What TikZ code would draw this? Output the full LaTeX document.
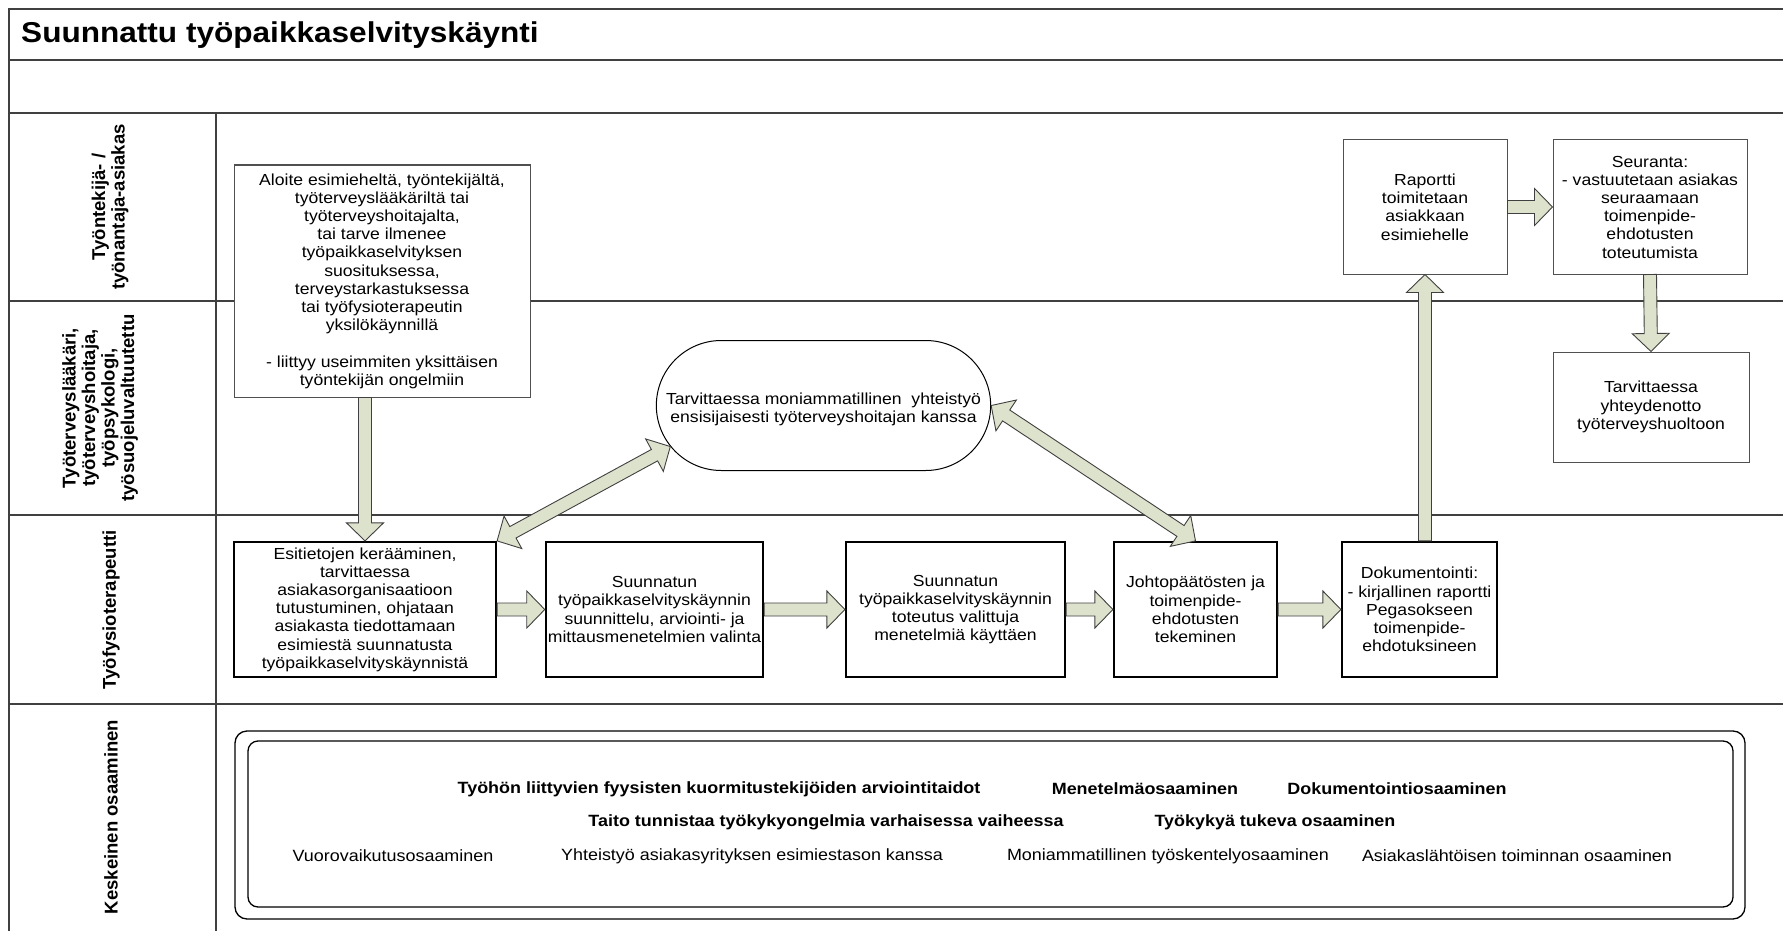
\documentclass[tikz,border=0pt]{standalone}
\usepackage{fontspec}
\setmainfont{Liberation Sans}[FakeStretch=1.1]
\newfontfamily\lanefont{Liberation Sans}
\usetikzlibrary{calc,shapes.misc}

\definecolor{arrowfill}{RGB}{221,226,204}
\definecolor{framegray}{RGB}{64,64,64}
\definecolor{thingray}{RGB}{80,80,80}

\newcommand\bodyfont{\fontsize{16}{18.2}\selectfont}
\def\arrShaft{6.5pt}
\def\arrHead{18.5pt}
\def\arrLen{18pt}

% block arrow with one head, from #1 to #2
\newcommand\flowarrow[2]{%
  \coordinate (fa-h) at ($(#2)!\arrLen!(#1)$);
  \draw[blockarrow] ($(#1)!\arrShaft!90:(#2)$) -- ($(fa-h)!\arrShaft!90:(#2)$)
    -- ($(fa-h)!\arrHead!90:(#2)$) -- (#2) -- ($(fa-h)!\arrHead!-90:(#2)$)
    -- ($(fa-h)!\arrShaft!-90:(#2)$) -- ($(#1)!\arrShaft!-90:(#2)$) -- cycle;}

% block arrow with heads at both ends
\newcommand\twowayarrow[2]{%
  \coordinate (tw-a) at ($(#1)!\arrLen!(#2)$);
  \coordinate (tw-b) at ($(#2)!\arrLen!(#1)$);
  \draw[blockarrow] (#1) -- ($(tw-a)!\arrHead!90:(#2)$) -- ($(tw-a)!\arrShaft!90:(#2)$)
    -- ($(tw-b)!\arrShaft!90:(#2)$) -- ($(tw-b)!\arrHead!90:(#2)$) -- (#2)
    -- ($(tw-b)!\arrHead!-90:(#2)$) -- ($(tw-b)!\arrShaft!-90:(#2)$)
    -- ($(tw-a)!\arrShaft!-90:(#2)$) -- ($(tw-a)!\arrHead!-90:(#2)$) -- cycle;}

\tikzset{
  frameline/.style={draw=framegray, line width=1.6pt},
  thinbox/.style={draw=thingray, line width=1pt, fill=white, align=center,
    font=\bodyfont, inner sep=2pt},
  thickbox/.style={draw=black, line width=2.2pt, fill=white, align=center,
    font=\bodyfont, inner sep=2pt},
  stadium/.style={rounded rectangle, draw=black, line width=1pt, fill=white},
  plaintext/.style={align=center, font=\bodyfont, inner sep=0pt},
  blockarrow/.style={fill=arrowfill, draw=framegray, line width=0.9pt, line join=miter},
  lanelabel/.style={rotate=90, align=center,
    font=\lanefont\bfseries\fontsize{18.5}{19.5}\selectfont},
  panel/.style={draw=black, line width=1.3pt},
  skill/.style={font=\fontsize{16.3}{18}\selectfont, inner sep=0pt},
  skillbold/.style={font=\bfseries\fontsize{16.3}{18}\selectfont, inner sep=0pt}
}

\begin{document}
\begin{tikzpicture}[x=1pt,y=-1pt]
\useasboundingbox (0,0) rectangle (1783,931);

% swimlane frame
\draw[frameline] (9,940) -- (9,9) -- (1790,9);
\foreach \yy in {60,113,301,515,704}
  \draw[frameline] (9,\yy) -- (1790,\yy);
\draw[frameline] (216,113) -- (216,940);

\node[anchor=west, inner sep=0pt, font=\bfseries\fontsize{28.7}{30}\selectfont]
  (title) at (21,35) {Suunnattu työpaikkaselvityskäynti};

% lane headings
\node[lanelabel] (lane1) at (110,207) {Työntekijä- /\\työnantaja-asiakas};
\node[lanelabel] (lane2) at (100,408)
  {Työterveyslääkäri,\\työterveyshoitaja,\\työpsykologi,\\työsuojeluvaltuutettu};
\node[lanelabel] (lane3) at (111,610) {Työfysioterapeutti};
\node[lanelabel] (lane4) at (111,817) {Keskeinen osaaminen};

% process steps
\node[thinbox, minimum width=296pt, minimum height=232pt] (A) at (382,281)
  {Aloite esimieheltä, työntekijältä,\\työterveyslääkäriltä tai\\työterveyshoitajalta,\\
   tai tarve ilmenee\\työpaikkaselvityksen\\suosituksessa,\\terveystarkastuksessa\\
   tai työfysioterapeutin\\yksilökäynnillä\\[18.2pt]- liittyy useimmiten yksittäisen\\
   työntekijän ongelmiin};
\node[stadium, minimum width=341pt, minimum height=130pt] (stad) at (823.5,405.5) {};
\node[plaintext] (stadText) at ($(stad.center)+(0,4)$)
  {Tarvittaessa moniammatillinen\ \ yhteistyö\\ensisijaisesti työterveyshoitajan kanssa};
\node[thickbox, minimum width=262pt, minimum height=135pt] (B) at (365,609.5)
  {Esitietojen kerääminen,\\tarvittaessa\\asiakasorganisaatioon\\tutustuminen, ohjataan\\
   asiakasta tiedottamaan\\esimiestä suunnatusta\\työpaikkaselvityskäynnistä};
\node[thickbox, minimum width=215pt, minimum height=135pt] (C) at (654.5,609.5)
  {Suunnatun\\työpaikkaselvityskäynnin\\suunnittelu, arviointi- ja\\mittausmenetelmien valinta};
\node[thickbox, minimum width=219pt, minimum height=135pt] (D) at (955.5,609.5)
  {Suunnatun\\työpaikkaselvityskäynnin\\toteutus valittuja\\menetelmiä käyttäen};
\node[thickbox, minimum width=163pt, minimum height=135pt] (E) at (1195.5,609.5)
  {Johtopäätösten ja\\toimenpide-\\ehdotusten\\tekeminen};
\node[thickbox, minimum width=155pt, minimum height=135pt] (F) at (1419.5,609.5)
  {Dokumentointi:\\- kirjallinen raportti\\Pegasokseen\\toimenpide-\\ehdotuksineen};
\node[thinbox, minimum width=164pt, minimum height=134pt] (G) at (1425,207)
  {Raportti\\toimitetaan\\asiakkaan\\esimiehelle};
\node[thinbox, minimum width=194pt, minimum height=134pt] (H) at (1650,207)
  {Seuranta:\\- vastuutetaan asiakas\\seuraamaan\\toimenpide-\\ehdotusten\\toteutumista};
\node[thinbox, minimum width=196pt, minimum height=110pt] (I) at (1651,407)
  {Tarvittaessa\\yhteydenotto\\työterveyshuoltoon};

% connectors
\coordinate (AB-start) at (B.north |- A.south);
\flowarrow{AB-start}{B.north}
\flowarrow{B.east}{C.west}
\flowarrow{C.east}{D.west}
\flowarrow{D.east}{E.west}
\flowarrow{E.east}{F.west}
\coordinate (FG-start) at (G.south |- F.north);
\flowarrow{FG-start}{G.south}
\flowarrow{G.east}{H.west}
\flowarrow{H.south}{I.north}
\twowayarrow{B.north east}{stad.195}
\twowayarrow{stad.east}{E.north}

% key competences
\node[panel, rounded corners=12pt, minimum width=1510pt, minimum height=188pt]
  (skillsOuter) at (990,825) {};
\node[panel, rounded corners=10pt, minimum width=1485pt, minimum height=166pt]
  (skillsInner) at (990.5,824) {};
\node[skillbold] (k1) at (719,789) {Työhön liittyvien fyysisten kuormitustekijöiden arviointitaidot};
\node[skillbold] (k2) at (1145,789) {Menetelmäosaaminen};
\node[skillbold] (k3) at (1397,789) {Dokumentointiosaaminen};
\node[skillbold] (k4) at (826,822) {Taito tunnistaa työkykyongelmia varhaisessa vaiheessa};
\node[skillbold] (k5) at (1275,822) {Työkykyä tukeva osaaminen};
\node[skill] (k6) at (393,856) {Vuorovaikutusosaaminen};
\node[skill] (k7) at (752,856) {Yhteistyö asiakasyrityksen esimiestason kanssa};
\node[skill] (k8) at (1168,856) {Moniammatillinen työskentelyosaaminen};
\node[skill] (k9) at (1517,856) {Asiakaslähtöisen toiminnan osaaminen};
\end{tikzpicture}
\end{document}
